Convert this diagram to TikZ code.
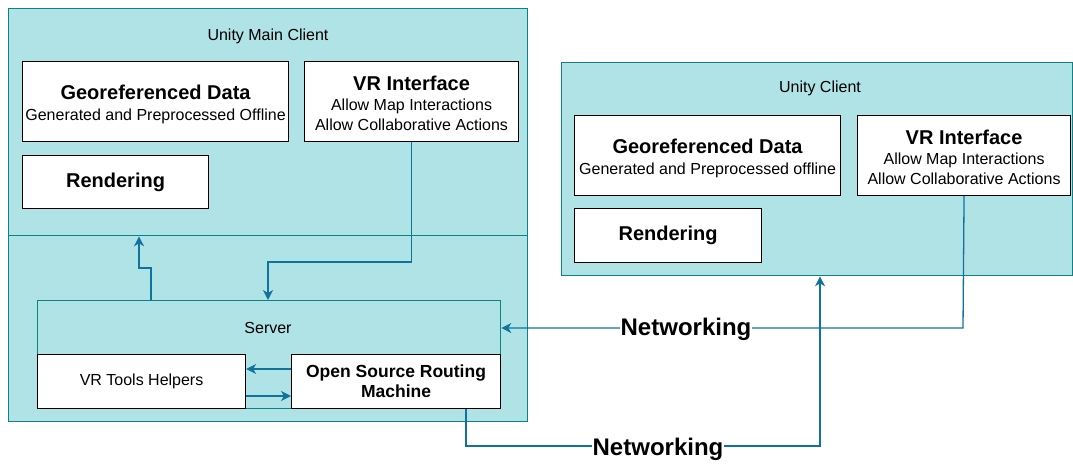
\documentclass[tikz,border=0pt]{standalone}
\usepackage{fontspec}
\setmainfont{Liberation Sans}
\usetikzlibrary{arrows.meta,calc}
\definecolor{cfill}{HTML}{B0E3E6}
\definecolor{cstroke}{HTML}{0E8088}
\definecolor{carrow}{HTML}{10739E}
\newcommand\fHead{\fontsize{20}{21}\selectfont\bfseries}
\newcommand\fSub{\fontsize{16}{20}\selectfont}
\begin{document}
\begin{tikzpicture}[x=1pt,y=-1pt,
  container/.style={draw=cstroke, fill=cfill, line width=1.3pt, rectangle, inner sep=0pt, anchor=north west},
  wbox/.style={draw=black, fill=white, line width=1.1pt, rectangle, align=center, inner sep=0pt, anchor=north west, font=\fSub},
  ttl/.style={font=\fSub, inner sep=0pt},
  arr/.style={draw=carrow, line width=1.3pt, -{Stealth[length=10pt,width=10pt,inset=3pt]}},
  netlabel/.style={fill=white, inner sep=1pt, font=\fontsize{24}{24}\selectfont\bfseries}]
\useasboundingbox (0,0) rectangle (1073,463);
% Unity Main Client
\node[container, minimum width=519pt, minimum height=227pt] (mainTop) at (8,8) {};
\node[container, minimum width=519pt, minimum height=186pt] (mainBot) at (8,235) {};
\node[ttl] (mainTitle) at (268,36) {Unity Main Client};
\node[wbox, minimum width=266pt, minimum height=80pt] (geo1) at (22,61)
  {{\fHead\rule{0pt}{19.5pt}Georeferenced Data}\\[1pt]Generated and Preprocessed Offline};
\node[wbox, minimum width=214pt, minimum height=80pt] (vr1) at (304,61)
  {{\fHead\rule{0pt}{18.6pt}VR Interface}\\Allow Map Interactions\\Allow Collaborative Actions};
\node[wbox, minimum width=186pt, minimum height=53pt] (rend1) at (22,155)
  {\fHead Rendering};
% Server
\node[container, minimum width=463pt, minimum height=108pt] (server) at (37,300) {};
\node[ttl] (serverTitle) at (268,328) {Server};
\node[wbox, minimum width=208pt, minimum height=54pt, font=\fontsize{16}{18}\selectfont] (tools) at (37,354)
  {VR Tools Helpers};
\node[wbox, minimum width=209pt, minimum height=54pt, font=\fontsize{17.5}{20}\selectfont\bfseries] (osrm) at (291,354)
  {Open Source Routing\\Machine};
% Unity Client
\node[container, minimum width=511pt, minimum height=213pt] (client) at (561,62) {};
\node[ttl] (clientTitle) at (820,88) {Unity Client};
\node[wbox, minimum width=266pt, minimum height=80pt] (geo2) at (574,115)
  {{\fHead\rule{0pt}{19.5pt}Georeferenced Data}\\[1pt]Generated and Preprocessed offline};
\node[wbox, minimum width=213pt, minimum height=80pt] (vr2) at (857,115)
  {{\fHead\rule{0pt}{18.6pt}VR Interface}\\Allow Map Interactions\\Allow Collaborative Actions};
\node[wbox, minimum width=187pt, minimum height=54pt] (rend2) at (574,208)
  {\fHead Rendering};
% connectors
\coordinate (k1) at (268,262);
\draw[arr] (vr1.south) |- (k1) -- (k1 |- server.north);
\coordinate (k2a) at (151,268);
\coordinate (k2b) at (139,268);
\draw[arr] (k2a |- server.north) -- (k2a) -- (k2b) -- (k2b |- mainTop.south);
\draw[arr] (osrm.west |- 0,369) -- (tools.east |- 0,369);
\draw[arr] (tools.east |- 0,396) -- (osrm.west |- 0,396);
\coordinate (n1) at (963,328);
\draw[arr] (vr2.south) -- (n1) -- (server.east |- n1);
\node[netlabel] (net1) at (686,329) {Networking};
\coordinate (n2a) at (466,446);
\coordinate (n2b) at (820,446);
\draw[arr] (n2a |- osrm.south) -- (n2a) -- (n2b) -- (n2b |- client.south);
\node[netlabel] (net2) at (658,449) {Networking};
\end{tikzpicture}
\end{document}
